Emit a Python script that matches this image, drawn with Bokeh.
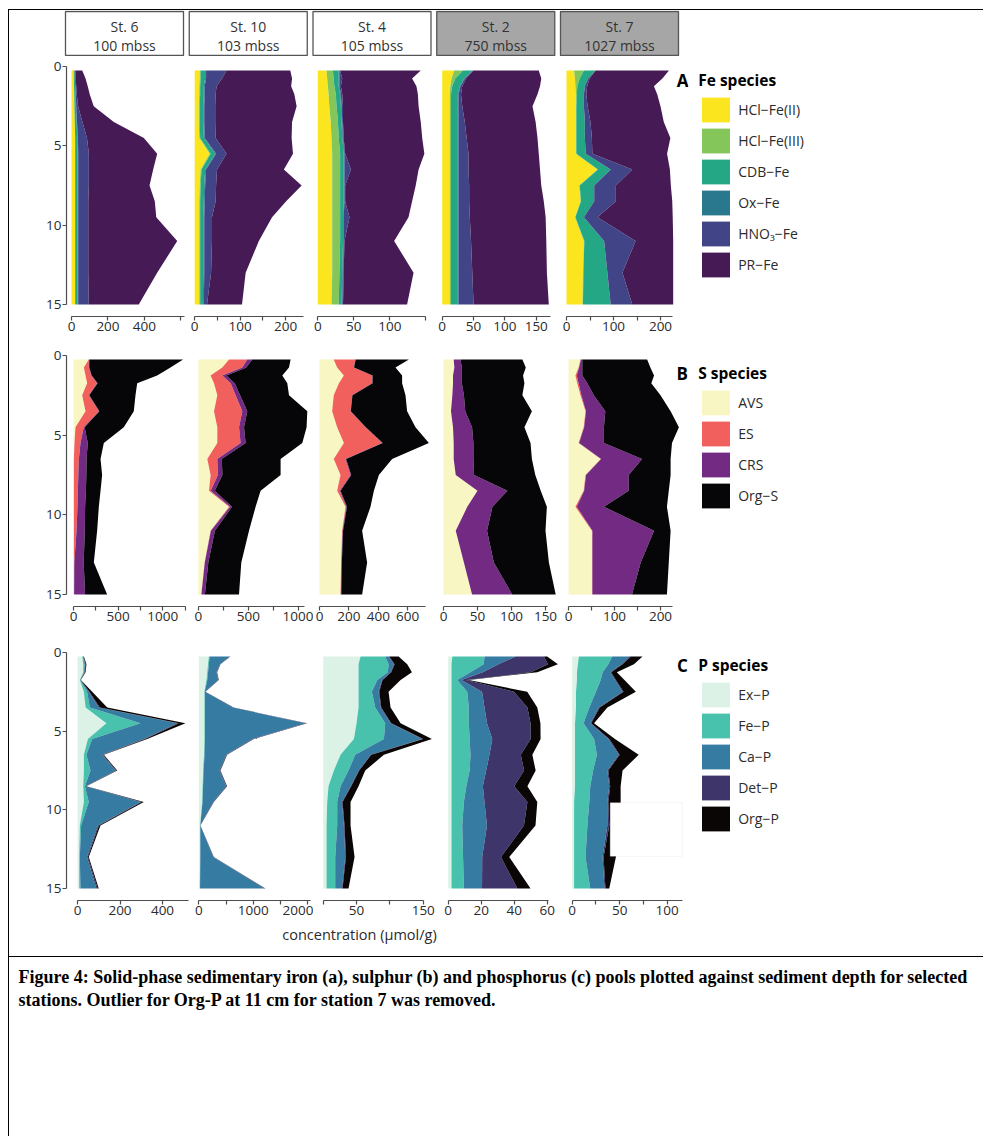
import math
from bokeh.plotting import figure
from bokeh.models import (ColumnDataSource, Range1d, FixedTicker, Label, Legend,
                          LegendItem, BoxAnnotation, Spacer)
from bokeh.layouts import row, column
from bokeh.core.properties import value
from bokeh.embed import file_html
from bokeh.resources import INLINE

# ---------------------------------------------------------------- data
DEPTH = [0.25, 0.75, 1.25, 1.75, 2.5, 3.5, 4.5, 5.5, 6.5, 7.5, 8.5, 9.5, 11, 13, 15]

STATIONS = ["St. 6", "St. 10", "St. 4", "St. 2", "St. 7"]
WATER_DEPTH = ["100 mbss", "103 mbss", "105 mbss", "750 mbss", "1027 mbss"]

FE_SPECIES = ["HCl\u2212Fe(II)", "HCl\u2212Fe(III)", "CDB\u2212Fe", "Ox\u2212Fe", "HNO\u2083\u2212Fe", "PR\u2212Fe"]
S_SPECIES = ["AVS", "ES", "CRS", "Org\u2212S"]
P_SPECIES = ["Ex\u2212P", "Fe\u2212P", "Ca\u2212P", "Det\u2212P", "Org\u2212P"]

# Fe species (umol/g)
st6_fe_hcl2 = [12, 13, 14, 15, 16, 18, 20, 20, 20, 20, 20, 20, 20, 20, 20]
st6_fe_hcl3 = [0, 0, 0, 0, 0, 0, 0, 0, 0, 0, 0, 0, 0, 0, 0]
st6_fe_cdb = [5, 5, 6, 7, 8, 10, 12, 14, 14, 14, 14, 14, 14, 14, 14]
st6_fe_ox = [1, 1, 1, 1, 2, 2, 3, 3, 3, 3, 3, 3, 3, 3, 3]
st6_fe_hno3 = [3, 4, 5, 6, 10, 30, 50, 58, 58, 58, 55, 55, 55, 55, 58]
st6_fe_pr = [38, 54, 63, 71, 86, 172, 312, 375, 353, 333, 365, 373, 488, 378, 274]

st10_fe_hcl2 = [11, 11, 10, 10, 9, 9, 10, 33, 13, 11, 10, 10, 10, 10, 10]
st10_fe_hcl3 = [2, 2, 2, 2, 2, 2, 2, 2, 2, 2, 2, 2, 2, 2, 2]
st10_fe_cdb = [10, 10, 8, 8, 8, 8, 8, 10, 8, 8, 8, 7, 7, 7, 6]
st10_fe_ox = [2, 2, 2, 2, 2, 2, 2, 2, 2, 2, 2, 2, 2, 2, 2]
st10_fe_hno3 = [45, 35, 26, 24, 24, 24, 24, 23, 24, 24, 24, 17, 17, 15, 7]
st10_fe_pr = [140, 154, 164, 173, 179, 169, 167, 146, 147, 188, 155, 132, 103, 76, 77]

st4_fe_hcl2 = [12, 13, 14, 15, 16, 18, 19, 20, 20, 20, 20, 20, 20, 20, 19]
st4_fe_hcl3 = [9, 9, 9, 10, 10, 10, 10, 11, 11, 11, 11, 11, 11, 10, 10]
st4_fe_cdb = [8, 7, 6, 6, 6, 5, 5, 5, 5, 5, 5, 4, 4, 4, 4]
st4_fe_ox = [1, 1, 1, 1, 1, 1, 1, 1, 1, 1, 1, 1, 1, 1, 1]
st4_fe_hno3 = [1, 4, 2, 2, 2, 1, 1, 1, 9, 1, 1, 8, 1, 1, 1]
st4_fe_pr = [112, 97, 105, 105, 105, 108, 109, 110, 94, 98, 93, 82, 69, 97, 89]

st2_fe_hcl2 = [19, 15, 13, 12, 12, 12, 12, 12, 12, 12, 12, 12, 12, 12, 12]
st2_fe_hcl3 = [14, 6, 3, 2, 2, 2, 2, 2, 2, 2, 2, 2, 2, 2, 2]
st2_fe_cdb = [15, 14, 12, 11, 11, 11, 11, 11, 11, 11, 11, 11, 11, 11, 11]
st2_fe_ox = [1, 1, 1, 1, 1, 1, 1, 1, 1, 1, 1, 1, 1, 1, 1]
st2_fe_hno3 = [1, 2, 3, 4, 6, 10, 13, 16, 16, 17, 17, 18, 20, 22, 24]
st2_fe_pr = [104, 120, 124, 122, 112, 113, 113, 112, 114, 115, 119, 121, 120, 119, 120]

st7_fe_hcl2 = [16, 18, 19, 20, 20, 20, 20, 20, 66, 27, 30, 18, 37, 35, 34]
st7_fe_hcl3 = [21, 10, 4, 2, 1, 1, 1, 1, 1, 1, 1, 1, 1, 1, 1]
st7_fe_cdb = [25, 18, 16, 15, 16, 18, 18, 20, 27, 31, 28, 18, 42, 51, 59]
st7_fe_ox = [0, 0, 0, 0, 0, 0, 0, 0, 0, 0, 0, 0, 0, 0, 0]
st7_fe_hno3 = [0, 3, 5, 5, 8, 12, 15, 14, 46, 46, 46, 29, 67, 32, 46]
st7_fe_pr = [156, 155, 142, 151, 155, 156, 167, 159, 80, 117, 120, 160, 80, 108, 87]

# S species (umol/g)
st6_s_avs = [172, 116, 135, 153, 97, 135, 22, 11, 4, 4, 4, 4, 4, 4, 4]
st6_s_es = [0, 56, 64, 112, 75, 150, 93, 67, 56, 50, 45, 40, 30, 5, 3]
st6_s_crs = [5, 5, 5, 5, 5, 5, 10, 82, 86, 90, 90, 86, 93, 105, 123]
st6_s_org = [1052, 910, 734, 444, 518, 386, 439, 180, 157, 177, 164, 154, 138, 114, 247]

st10_s_avs = [307, 240, 123, 157, 190, 157, 190, 190, 90, 123, 107, 307, 123, 63, 30]
st10_s_es = [183, 200, 117, 167, 183, 283, 217, 233, 100, 73, 17, 10, 3, 2, 1]
st10_s_crs = [50, 40, 40, 40, 45, 50, 50, 50, 45, 45, 40, 20, 40, 35, 35]
st10_s_org = [383, 427, 560, 526, 489, 600, 626, 567, 588, 582, 459, 236, 341, 330, 341]

st4_s_avs = [97, 120, 166, 132, 97, 86, 120, 166, 97, 143, 120, 177, 154, 147, 143]
st4_s_es = [147, 113, 193, 227, 125, 125, 193, 261, 79, 68, 18, 5, 3, 2, 2]
st4_s_crs = [2, 2, 2, 2, 2, 2, 2, 3, 5, 5, 5, 5, 3, 3, 3]
st4_s_org = [362, 282, 201, 201, 361, 383, 338, 314, 313, 188, 227, 160, 130, 172, 142]

st2_s_avs = [15, 16, 14, 14, 13, 11, 14, 15, 15, 18, 50, 35, 18, 30, 42]
st2_s_es = [0, 0, 0, 0, 0, 0, 0, 0, 0, 0, 0, 0, 0, 0, 0]
st2_s_crs = [10, 11, 13, 13, 17, 21, 28, 29, 29, 27, 44, 37, 46, 44, 59]
st2_s_org = [91, 94, 90, 92, 86, 98, 77, 84, 86, 90, 49, 80, 86, 81, 64]

st7_s_avs = [26, 22, 15, 19, 26, 37, 33, 22, 70, 37, 33, 15, 51, 51, 51]
st7_s_es = [1, 1, 3, 3, 2, 1, 1, 1, 1, 1, 1, 3, 1, 1, 1]
st7_s_crs = [3, 7, 12, 19, 27, 42, 43, 54, 89, 93, 97, 59, 134, 105, 86]
st7_s_org = [141, 148, 156, 139, 145, 142, 163, 148, 62, 91, 87, 137, 36, 61, 76]

# P species (umol/g)
st6_p_ex = [22, 27, 27, 11, 30, 38, 136, 49, 30, 30, 27, 30, 11, 8, 8]
st6_p_fe = [3, 6, 3, 2, 15, 20, 160, 20, 12, 31, 8, 23, 6, 3, 6]
st6_p_ca = [2, 3, 3, 1, 8, 42, 173, 243, 74, 118, 3, 243, 79, 34, 75]
st6_p_det = [1, 2, 2, 1, 3, 5, 8, 6, 4, 4, 2, 6, 5, 4, 6]
st6_p_org = [2, 4, 3, 1, 13, 35, 31, 10, 4, 4, 2, 10, 7, 4, 5]

st10_p_ex = [184, 170, 155, 141, 104, 104, 104, 104, 95, 80, 70, 61, 25, 25, 18]
st10_p_fe = [15, 15, 15, 15, 5, 10, 10, 10, 10, 8, 8, 8, 2, 3, 5]
st10_p_ca = [371, 201, 155, 200, 8, 511, 1847, 873, 398, 292, 425, 192, 2, 238, 1184]
st10_p_det = [10, 10, 10, 10, 4, 15, 25, 20, 15, 15, 15, 12, 1, 8, 15]
st10_p_org = [2, 2, 2, 2, 2, 3, 5, 4, 3, 3, 3, 3, 1, 2, 3]

st4_p_ex = [56, 53, 53, 53, 53, 53, 50, 46, 26, 16, 8, 6, 5, 5, 5]
st4_p_fe = [37, 45, 44, 28, 20, 25, 43, 45, 22, 22, 18, 15, 16, 13, 13]
st4_p_ca = [5, 8, 4, 7, 10, 8, 8, 57, 23, 15, 15, 7, 10, 15, 10]
st4_p_det = [1, 1, 1, 1, 1, 1, 1, 2, 1, 1, 1, 1, 1, 1, 1]
st4_p_org = [14, 19, 31, 27, 14, 14, 14, 13, 19, 9, 11, 12, 9, 13, 9]

st2_p_ex = [2.5, 2, 2, 2, 2, 2, 2, 2, 2, 2, 2, 2, 2, 2, 2]
st2_p_fe = [19.5, 19.5, 11.5, 3.5, 9.5, 10.5, 10.5, 11, 11.5, 11, 9, 7.5, 6.5, 7, 7.5]
st2_p_ca = [19, 9, 7.5, 2.5, 9, 9.5, 11, 13.7, 11.5, 10, 10, 12.5, 15, 11.6, 11]
st2_p_det = [17, 30, 29, 3, 19.4, 26, 26.4, 23.3, 19, 23, 19, 26, 22.4, 11.4, 21.4]
st2_p_org = [2, 6, 4, 1.5, 8, 6, 6, 6, 7, 7, 8, 6, 7, 5, 8]

st7_p_ex = [7, 6, 5, 5, 4, 4, 3, 3, 3, 3, 3, 2, 2, 2, 2]
st7_p_fe = [35, 32, 27, 25, 21, 14, 9, 20, 23, 19, 16, 16, 14, 12, 17]
st7_p_ca = [18, 14, 8, 15, 28, 10, 7, 15, 23, 15, 20, 19, 21, 18, 15]
st7_p_det = [2, 1, 1, 1, 1, 1, 1, 1, 1, 1, 1, 1, 2, 1, 1]
st7_p_org = [12, 12, 6, 9, 13, 8, 3, 6, 20, 15, 11, 13, 10, 13, 4]

# axis ticks per row (A Fe, B S, C P) and station column
TICKS_A = [[0, 200, 400, 600], [0, 50, 100, 150, 200], [0, 50, 100, 150], [0, 50, 100, 150], [0, 50, 100, 150, 200]]
TICKS_B = [[0, 250, 500, 750, 1000, 1250], [0, 250, 500, 750, 1000], [0, 200, 400, 600], [0, 50, 100, 150], [0, 50, 100, 150, 200]]
TICKS_C = [[0, 200, 400], [0, 500, 1000, 1500, 2000], [0, 50, 100, 150], [0, 20, 40, 60], [0, 25, 50, 75, 100]]
UNLABELLED_A = [[600], [50, 150], [150], [], [50, 150]]
UNLABELLED_B = [[250, 750, 1250], [250, 750], [], [], [50, 150]]
UNLABELLED_C = [[], [500, 1500], [0, 100], [], [25, 75]]
AXIS_END_A = [620, 240, 150, 172, 226]
AXIS_END_B = [1260, 1060, 720, 153, 225]
AXIS_END_C = [535, 2050, 150, 60.5, 116]

CAPTION = ["Figure 4: Solid-phase sedimentary iron (a), sulphur (b) and phosphorus (c) pools plotted against sediment depth for selected",
           "stations. Outlier for Org-P at 11 cm for station 7 was removed."]

# ---------------------------------------------------------------- styling / layout (page pixels)
FE_COLORS = ["#fbe51f", "#84c65a", "#24a784", "#29788e", "#414487", "#461a55"]
S_COLORS = ["#f8f6c2", "#f1605d", "#722a82", "#060608"]
P_COLORS = ["#ddf2e6", "#48c1ad", "#357ba2", "#3e356b", "#0b0606"]
HEADER_FILL = ["white", "white", "white", "#a6a6a6", "#a6a6a6"]
AXIS_COLOR = "#4d4d4d"
TEXT_COLOR = "#2b2b2b"
FONT = "Open Sans"

PAGE_LEFT, PAGE_RIGHT = 9, 983
COL_EDGES = [9, 190, 313, 437, 561, 690]      # canvas left edges of the 5 panel columns + legend column
YAXIS_X = 66
HEADER_TOP, HEADER_BOTTOM = 10, 56
ROW_GEOM = {"A": (56, 345, 66, 316), "B": (345, 640, 355, 606), "C": (640, 923, 652, 900)}
DEPTH_END = 15.76
ORIGIN = {"A": [71, 194.2, 317.3, 441.7, 566], "B": [73, 197.8, 319, 443, 568], "C": [77, 198.3, 322.7, 447.7, 571.7]}
PX_PER_UNIT = {"A": [0.1823, 0.455, 0.72, 0.627, 0.47], "B": [0.0892, 0.1, 0.147, 0.68, 0.46],
               "C": [0.2125, 0.0544, 0.667, 1.65, 0.95]}
LETTER_POS = {"A": (682, 0.88), "B": (681.7, 1.13), "C": (682, 0.83)}
LEGEND_LEFT = 698.2
LEGEND_TOP = {"A": 77, "B": 370, "C": 662}
LEGEND_TITLE_GAP = 3
LEGEND_TITLE_H = 13.5 + LEGEND_TITLE_GAP
LEGEND_ITEM_H = 31
YLABEL_X, YLABEL_DEPTH = 29, 6.8
XLABEL_X, XLABEL_Y = 359, 933.5
MASK = dict(left=40, right=116, top=9.55, bottom=12.95)

KEYS_FE = ["hcl2", "hcl3", "cdb", "ox", "hno3", "pr"]
KEYS_S = ["avs", "es", "crs", "org"]
KEYS_P = ["ex", "fe", "ca", "det", "org"]

FE_DATA = [
    [st6_fe_hcl2, st6_fe_hcl3, st6_fe_cdb, st6_fe_ox, st6_fe_hno3, st6_fe_pr],
    [st10_fe_hcl2, st10_fe_hcl3, st10_fe_cdb, st10_fe_ox, st10_fe_hno3, st10_fe_pr],
    [st4_fe_hcl2, st4_fe_hcl3, st4_fe_cdb, st4_fe_ox, st4_fe_hno3, st4_fe_pr],
    [st2_fe_hcl2, st2_fe_hcl3, st2_fe_cdb, st2_fe_ox, st2_fe_hno3, st2_fe_pr],
    [st7_fe_hcl2, st7_fe_hcl3, st7_fe_cdb, st7_fe_ox, st7_fe_hno3, st7_fe_pr],
]
S_DATA = [
    [st6_s_avs, st6_s_es, st6_s_crs, st6_s_org],
    [st10_s_avs, st10_s_es, st10_s_crs, st10_s_org],
    [st4_s_avs, st4_s_es, st4_s_crs, st4_s_org],
    [st2_s_avs, st2_s_es, st2_s_crs, st2_s_org],
    [st7_s_avs, st7_s_es, st7_s_crs, st7_s_org],
]
P_DATA = [
    [st6_p_ex, st6_p_fe, st6_p_ca, st6_p_det, st6_p_org],
    [st10_p_ex, st10_p_fe, st10_p_ca, st10_p_det, st10_p_org],
    [st4_p_ex, st4_p_fe, st4_p_ca, st4_p_det, st4_p_org],
    [st2_p_ex, st2_p_fe, st2_p_ca, st2_p_det, st2_p_org],
    [st7_p_ex, st7_p_fe, st7_p_ca, st7_p_det, st7_p_org],
]


def clean(p):
    p.outline_line_color = None
    p.xgrid.visible = False
    p.ygrid.visible = False
    p.background_fill_color = "white"
    p.border_fill_color = "white"


def style_axis(ax, ticks, hidden, bounds):
    ax.bounds = bounds
    ax.ticker = FixedTicker(ticks=ticks, minor_ticks=[])
    ax.major_label_overrides = {t: "" for t in hidden}
    ax.axis_line_color = AXIS_COLOR
    ax.axis_line_width = 1.2
    ax.major_tick_line_color = AXIS_COLOR
    ax.major_tick_line_width = 1.2
    ax.major_tick_in = 0
    ax.major_tick_out = 4
    ax.minor_tick_line_color = None
    ax.major_label_text_font = FONT
    ax.major_label_text_font_size = "13.5px"
    ax.major_label_text_color = TEXT_COLOR
    ax.major_label_standoff = 1


def make_panel(rk, j, keys, values, colors, ticks, hidden, axis_end):
    L, R = COL_EDGES[j], COL_EDGES[j + 1]
    top, bottom, ftop, fbot = ROW_GEOM[rk]
    x0, s = ORIGIN[rk][j], PX_PER_UNIT[rk][j]
    FL = YAXIS_X if j == 0 else int(round(x0 - 2))
    FR = R - 2
    p = figure(width=R - L, height=bottom - top, title=None,
               x_range=Range1d((FL - x0) / s, (FR - x0) / s),
               y_range=Range1d(DEPTH_END, 0),
               x_axis_location="below", y_axis_location="left" if j == 0 else None,
               toolbar_location=None, output_backend="svg",
               min_border_left=FL - L, min_border_right=R - FR,
               min_border_top=ftop - top, min_border_bottom=bottom - fbot)
    clean(p)

    src = ColumnDataSource(dict(depth=DEPTH, **{k: v for k, v in zip(keys, values)}))
    p.harea_stack(stackers=keys, y="depth", source=src, fill_color=colors)

    style_axis(p.xaxis[0], ticks, hidden, (0, axis_end))
    if j == 0:
        style_axis(p.yaxis[0], [0, 5, 10, 15], [], (0, 15))
        p.add_layout(Label(x=(YLABEL_X - x0) / s, y=YLABEL_DEPTH, text="sediment depth (cm)",
                           angle=math.pi / 2, text_align="center", text_baseline="middle",
                           text_font=FONT, text_font_size="14.5px", text_color=TEXT_COLOR))
    if j == 4:
        lx, ly = LETTER_POS[rk]
        p.add_layout(Label(x=(lx - x0) / s, y=ly, text=rk, text_align="center",
                           text_baseline="middle", text_font=FONT, text_font_style="bold",
                           text_font_size="17px", text_color="black"))
    return p


def make_legend(rk, title, names, colors):
    L, R = COL_EDGES[5], PAGE_RIGHT
    top, bottom, ftop, fbot = ROW_GEOM[rk]
    p = figure(width=R - L, height=bottom - top, title=None,
               x_range=Range1d(0, 1), y_range=Range1d(0, 1),
               x_axis_location=None, y_axis_location=None,
               toolbar_location=None, output_backend="svg",
               min_border_left=0, min_border_right=0,
               min_border_top=ftop - top, min_border_bottom=bottom - fbot)
    clean(p)
    items = []
    for n, c in zip(names, colors):
        r = p.harea(x1=[0, 0], x2=[0, 0], y=[-10, -9], fill_color=c)
        items.append(LegendItem(label=n, renderers=[r]))
    height = LEGEND_TITLE_H + LEGEND_ITEM_H * len(names)
    loc = (LEGEND_LEFT - L, fbot - LEGEND_TOP[rk] - height)
    leg = Legend(items=items, location=loc, title=title,
                 title_text_font=FONT, title_text_font_style="bold",
                 title_text_font_size="15.5px", title_text_color="black",
                 title_standoff=LEGEND_TITLE_GAP,
                 label_text_font=FONT, label_text_font_size="14px", label_text_color=TEXT_COLOR,
                 glyph_width=35, glyph_height=LEGEND_ITEM_H, spacing=0, label_standoff=5,
                 padding=0, margin=0, border_line_color=None, background_fill_alpha=0)
    p.add_layout(leg)
    return p


def make_row(rk, keys, data, colors, ticks, hidden, ends, legend_title, names):
    panels = [make_panel(rk, j, keys, data[j], colors, ticks[j], hidden[j], ends[j]) for j in range(5)]
    return row(panels + [make_legend(rk, legend_title, names, colors)], spacing=0)


rowA = make_row("A", KEYS_FE, FE_DATA, FE_COLORS, TICKS_A, UNLABELLED_A, AXIS_END_A, "Fe species", FE_SPECIES)
rowB = make_row("B", KEYS_S, S_DATA, S_COLORS, TICKS_B, UNLABELLED_B, AXIS_END_B, "S species", S_SPECIES)
rowC = make_row("C", KEYS_P, P_DATA, P_COLORS, TICKS_C, UNLABELLED_C, AXIS_END_C, "P species", P_SPECIES)

# white mask over the removed Org-P outlier at station 7
rowC.children[4].add_layout(BoxAnnotation(left=MASK["left"], right=MASK["right"], top=MASK["top"],
                                          bottom=MASK["bottom"], fill_color="white", fill_alpha=1,
                                          line_color="#e2e2e2", line_width=1))

W = PAGE_RIGHT - PAGE_LEFT

# station header boxes
HEAD_CENTER0, HEAD_PITCH = 124, 123.75
hp = figure(width=W, height=HEADER_BOTTOM - HEADER_TOP, title=None,
            x_range=Range1d((PAGE_LEFT - HEAD_CENTER0) / HEAD_PITCH, (PAGE_RIGHT - HEAD_CENTER0) / HEAD_PITCH),
            y_range=Range1d(0, 1), x_axis_location=None, y_axis_location=None,
            toolbar_location=None, output_backend="svg", min_border=0)
clean(hp)
hsrc = ColumnDataSource(dict(i=list(range(len(STATIONS))), st=STATIONS, wd=WATER_DEPTH, fill=HEADER_FILL))
hp.rect(x="i", y=0.5, width=118, height=44, width_units="screen", height_units="screen",
        fill_color="fill", line_color="#555555", line_width=1.3, source=hsrc)
hp.text(x="i", y=0.5, text="st", y_offset=-7.5, text_align="center", text_baseline="middle",
        text_font=value(FONT), text_font_size="14px", text_color="#333333", source=hsrc)
hp.text(x="i", y=0.5, text="wd", y_offset=11.5, text_align="center", text_baseline="middle",
        text_font=value(FONT), text_font_size="14px", text_color="#333333", source=hsrc)

# x-axis title strip under the P panels
xt = figure(width=W, height=33, title=None, x_range=Range1d(PAGE_LEFT, PAGE_RIGHT),
            y_range=Range1d(956, 923), x_axis_location=None, y_axis_location=None,
            toolbar_location=None, output_backend="svg", min_border=0)
clean(xt)
xt.add_layout(Label(x=XLABEL_X, y=XLABEL_Y, text="concentration (\u03bcmol/g)", text_align="center",
                    text_baseline="middle", text_font=FONT, text_font_size="14.5px",
                    text_color=TEXT_COLOR))

# caption
cp = figure(width=W, height=179, title=None,
            x_range=Range1d(PAGE_LEFT, PAGE_RIGHT), y_range=Range1d(1136, 957),
            x_axis_location=None, y_axis_location=None,
            toolbar_location=None, output_backend="svg", min_border=0)
clean(cp)
for k, line in enumerate(CAPTION):
    cp.add_layout(Label(x=18, y=976.5 + 22.5 * k, text=line, text_baseline="middle",
                        text_font="Liberation Serif", text_font_style="bold",
                        text_font_size="18px", text_color="black"))

divider = Spacer(width=W, height=1, styles={"background-color": "#000"})
main = column([hp, rowA, rowB, rowC, xt, divider, cp], spacing=0)

top_line = Spacer(width=PAGE_RIGHT - 8, height=1, styles={"background-color": "#000"})
left_line = Spacer(width=1, height=1126, styles={"background-color": "#000"})
page = column([Spacer(width=PAGE_RIGHT, height=9),
               row([Spacer(width=8, height=1), top_line], spacing=0),
               row([Spacer(width=8, height=1126), left_line, main], spacing=0)], spacing=0)

open("out.html", "w").write(file_html(page, INLINE))
